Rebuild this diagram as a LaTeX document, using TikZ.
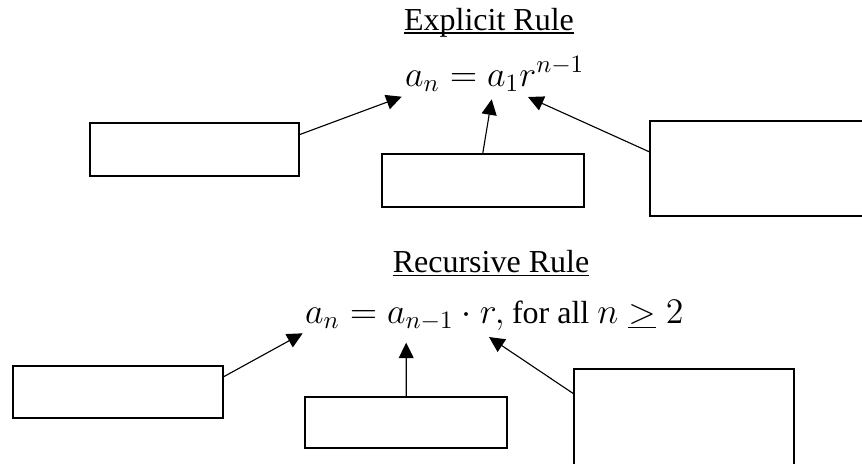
\documentclass[tikz,border=0pt]{standalone}
\usepackage{fontspec}
\setmainfont{Liberation Serif}
\usetikzlibrary{arrows.meta,calc}
\begin{document}
\begin{tikzpicture}[x=0.4pt,y=-0.4pt,
  box/.style={draw, line width=0.8pt, inner sep=0pt, outer sep=0pt, anchor=north west},
  conn/.style={line width=0.45pt, -{Triangle[length=6.2pt,width=6pt]}},
  title/.style={inner sep=0pt, outer sep=0pt, anchor=base, font=\fontsize{12.8}{15}\selectfont},
  uline/.style={line width=0.5pt},
  formula/.style={inner sep=0pt, outer sep=0pt, anchor=base west, font=\fontsize{13.6}{16}\selectfont}]
\path[use as bounding box] (0,0) rectangle (862,463);
\clip (0,0) rectangle (862,463);

% Explicit rule
\node[title] (t1) at (489,30) {Explicit Rule};
\draw[uline] ($(t1.base west)+(0,3)$) -- ($(t1.base east)+(0,3)$);
\node[formula] (f1) at (405,86) {$a_n = a_1 r^{n-1}$};

\node[box, minimum width=83.56pt, minimum height=21.08pt] (b1) at (89.6,123.3) {};
\node[box, minimum width=80.92pt, minimum height=21.08pt] (b2) at (381.5,154) {};
\node[box, minimum width=95.84pt, minimum height=38.12pt] (b3) at (650.4,120.7) {};

\coordinate (p1) at (401.7,96.7);
\coordinate (p2) at (491.7,99.3);
\coordinate (p3) at (528,97);
\draw[conn] ($(b1.north east)+(0,11.7)$) -- (p1);
\draw[conn] (b2.north) -- (p2);
\draw[conn] ($(b3.north west)+(0,31.6)$) -- (p3);

% Recursive rule
\node[title] (t2) at (491,272) {Recursive Rule};
\draw[uline] ($(t2.base west)+(0,3.5)$) -- ($(t2.base east)+(0,3.5)$);
\node[formula] (f2) at (305,323) {$a_n = a_{n-1}\cdot r,$};
\node[formula, font=\fontsize{12.8}{15}\selectfont] (f3) at (512,323) {for all {\fontsize{13.6}{16}\selectfont$n \mathrel{\underline{>}} 2$}};

\node[box, minimum width=84pt, minimum height=20.92pt] (b4) at (12.6,365.7) {};
\node[box, minimum width=80.96pt, minimum height=20.64pt] (b5) at (305,396.7) {};
\node[box, minimum width=88pt, minimum height=48.4pt] (b6) at (574,369) {};

\coordinate (p4) at (302.7,333.3);
\coordinate (p5) at (406.2,342.7);
\coordinate (p6) at (489,337);
\draw[conn] ($(b4.north east)+(0,11.6)$) -- (p4);
\draw[conn] (b5.north) -- (p5);
\draw[conn] ($(b6.north west)+(0,25)$) -- (p6);
\end{tikzpicture}
\end{document}
